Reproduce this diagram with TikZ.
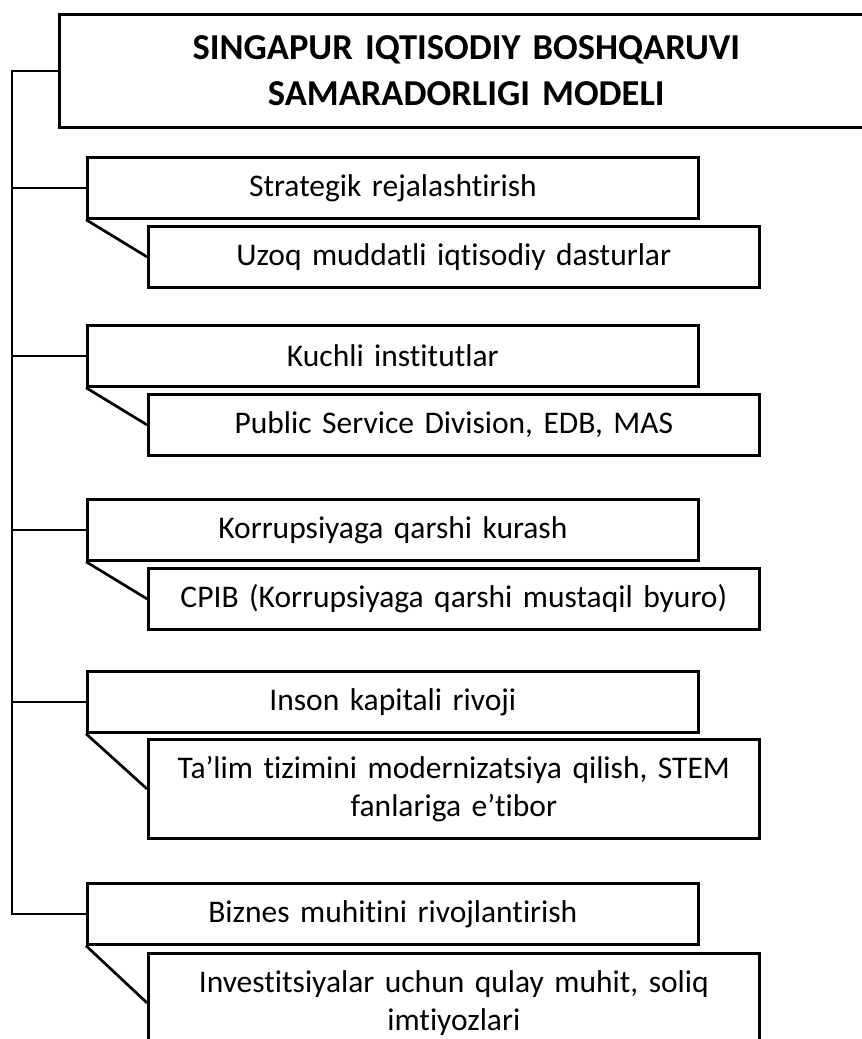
\documentclass[tikz,border=0pt]{standalone}
\usepackage{fontspec}
\setmainfont{Carlito}[Ligatures=NoCommon]
\begin{document}
\begin{tikzpicture}[x=1pt,y=-1pt,line width=2.7pt,
        headbox/.style={draw,anchor=north west,inner sep=0,text width=814pt,minimum height=113pt,align=center,font=\fontsize{36.5}{46}\selectfont\bfseries},
        mainbox/.style={draw,anchor=north west,inner sep=0,text width=611pt,minimum height=61pt,align=center,font=\fontsize{31.5}{38}\selectfont},
        subbox/.style={mainbox,minimum height=61pt},
        tallbox/.style={mainbox,minimum height=99pt}]
        \useasboundingbox (0,0) rectangle (862,1039);
        \clip (0,0) rectangle (862,1039);
        \coordinate (trunk) at (12,0);
        \node[headbox] (title) at (58,13){SINGAPUR IQTISODIY BOSHQARUVI\\SAMARADORLIGI MODELI};
        \node[mainbox] (b1) at (86,156){Strategik rejalashtirish};
        \node[subbox] (s1) at (147,225){Uzoq muddatli iqtisodiy dasturlar};
        \node[mainbox] (b2) at (86,324){Kuchli institutlar};
        \node[subbox] (s2) at (147,393){Public Service Division, EDB, MAS};
        \node[mainbox] (b3) at (86,498){Korrupsiyaga qarshi kurash};
        \node[subbox] (s3) at (147,567){CPIB (Korrupsiyaga qarshi mustaqil byuro)};
        \node[mainbox] (b4) at (86,670){Inson kapitali rivoji};
        \node[tallbox] (s4) at (147,738){Ta’lim tizimini modernizatsiya qilish, STEM\\fanlariga e’tibor};
        \node[mainbox] (b5) at (86,882){Biznes muhitini rivojlantirish};
        \node[tallbox] (s5) at (147,952){Investitsiyalar uchun qulay muhit, soliq\\imtiyozlari};
        \draw (title.west) -- (title.west -| trunk) |- (b5.west);
        \foreach \b in {b1,b2,b3,b4}
            \draw (\b.west) -- (\b.west -| trunk);
        \foreach \b/\s in {b1/s1,b2/s2,b3/s3,b4/s4,b5/s5}
            \draw (\b.south west) -- (\s.west);
    \end{tikzpicture}
\end{document}
